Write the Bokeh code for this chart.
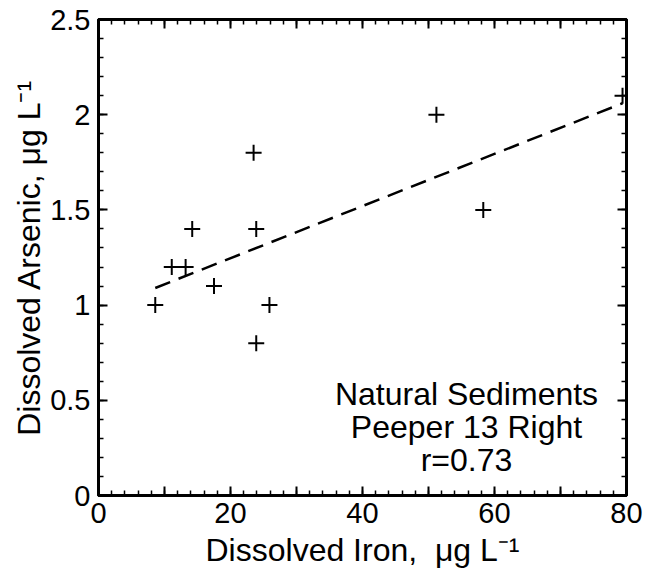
from bokeh.plotting import figure
from bokeh.models import LinearAxis, FixedTicker, Label, Range1d
from bokeh.embed import file_html
from bokeh.resources import INLINE

# ---- data ----
iron = [8.6, 11.1, 13.2, 14.2, 17.5, 23.5, 23.9, 23.9, 25.9, 51.2, 58.3, 79.4]
arsenic = [1.0, 1.2, 1.2, 1.4, 1.1, 1.8, 1.4, 0.8, 1.0, 2.0, 1.5, 2.1]
fit_iron = [8.6, 79.4]
fit_arsenic = [1.09, 2.06]

x_major = [0, 10, 20, 30, 40, 50, 60, 70, 80]
x_labels = ["0", "", "20", "", "40", "", "60", "", "80"]
x_minor = list(range(0, 81, 2))
y_major = [0, 0.5, 1, 1.5, 2, 2.5]
y_labels = ["0", "0.5", "1", "1.5", "2", "2.5"]
y_minor = [round(i * 0.1, 1) for i in range(26)]

x_title = "Dissolved Iron,\u00a0 \u03bcg L\u207b\u00b9"
y_title = "Dissolved Arsenic, \u03bcg L\u207b\u00b9"
notes = ["Natural Sediments", "Peeper 13 Right", "r=0.73"]

FONT = "Liberation Sans"

p = figure(width=656, height=578, x_range=Range1d(0, 80), y_range=Range1d(0, 2.5),
           output_backend="svg", toolbar_location=None,
           min_border_left=98, min_border_right=30, min_border_top=19, min_border_bottom=83)
p.grid.visible = False
p.outline_line_color = "black"
p.outline_line_width = 3
p.background_fill_color = "white"
p.border_fill_color = "white"

xt = FixedTicker(ticks=x_major, minor_ticks=x_minor)
yt = FixedTicker(ticks=y_major, minor_ticks=y_minor)


def style(ax, show_labels, overrides):
    ax.axis_line_width = 3
    ax.axis_line_color = "black"
    ax.major_tick_in = 9
    ax.major_tick_out = 0
    ax.minor_tick_in = 5
    ax.minor_tick_out = 0
    ax.major_tick_line_width = 2
    ax.minor_tick_line_width = 1.5
    ax.major_tick_line_color = "black"
    ax.minor_tick_line_color = "black"
    ax.major_label_overrides = overrides
    if show_labels:
        ax.major_label_text_font = FONT
        ax.major_label_text_font_size = "29px"
        ax.major_label_text_color = "black"
    else:
        ax.major_label_text_font_size = "0px"
        ax.major_label_standoff = 0


xover = dict(zip([float(v) for v in x_major], x_labels))
yover = dict(zip([float(v) for v in y_major], y_labels))

xa = p.xaxis[0]
xa.ticker = xt
style(xa, True, xover)
xa.major_label_standoff = 7
xa.axis_label = x_title
xa.axis_label_text_font = FONT
xa.axis_label_text_font_size = "32px"
xa.axis_label_text_font_style = "normal"
xa.axis_label_text_color = "black"
xa.axis_label_standoff = 6

ya = p.yaxis[0]
ya.ticker = yt
style(ya, True, yover)
ya.major_label_standoff = 8
ya.axis_label = y_title
ya.axis_label_text_font = FONT
ya.axis_label_text_font_size = "32px"
ya.axis_label_text_font_style = "normal"
ya.axis_label_text_color = "black"
ya.axis_label_standoff = 0

top = LinearAxis(ticker=xt)
style(top, False, {float(v): "" for v in x_major})
p.add_layout(top, "above")
right = LinearAxis(ticker=yt)
style(right, False, {float(v): "" for v in y_major})
p.add_layout(right, "right")

# regression line and points
p.line(fit_iron, fit_arsenic, line_color="black", line_width=2.5, line_dash="16 9")
p.scatter(iron, arsenic, marker="cross", size=16, line_color="black", line_width=2)

# annotation block
for i, t in enumerate(notes):
    p.add_layout(Label(x=368, y=102 - 33 * i, x_units="screen", y_units="screen", text=t,
                       text_align="center", text_baseline="alphabetic",
                       text_font=FONT, text_font_size="32px", text_color="black"))

open("out.html", "w").write(file_html(p, INLINE))
